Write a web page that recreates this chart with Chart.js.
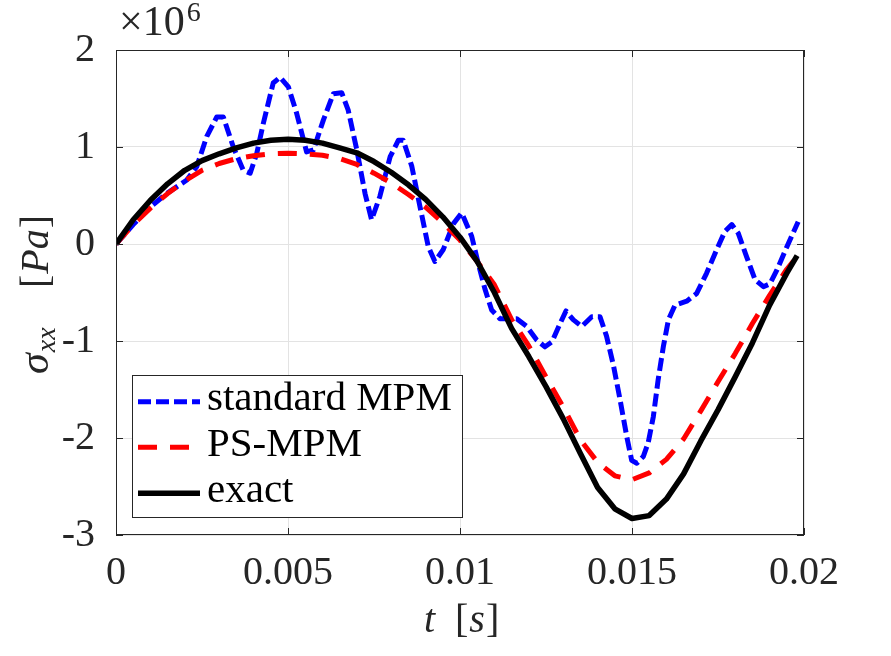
<!DOCTYPE html>
<html>
<head>
<meta charset="utf-8">
<script src="https://cdn.jsdelivr.net/npm/chart.js@4.4.1/dist/chart.umd.min.js"></script>
<style>
  html, body { margin: 0; padding: 0; background: #fff; }
</style>
</head>
<body>
<canvas id="c" width="891" height="656"></canvas>
<script>
// ─── DATA (stress in units of 1e6 Pa) ─────────────────────────────────────
const tExact = [0, 0.0005, 0.001, 0.0015, 0.002, 0.0025, 0.003, 0.0035, 0.004, 0.0045,
  0.005, 0.0055, 0.006, 0.0065, 0.007, 0.0075, 0.008, 0.0085, 0.009, 0.0095,
  0.01, 0.0105, 0.011, 0.0115, 0.012, 0.0125, 0.013, 0.0135, 0.014, 0.0145,
  0.015, 0.0155, 0.016, 0.0165, 0.017, 0.0175, 0.018, 0.0185, 0.019, 0.0195, 0.0198];

const sigmaExact = [0, 0.25, 0.45, 0.62, 0.76, 0.86, 0.93, 0.99, 1.04, 1.07,
  1.08, 1.07, 1.04, 0.99, 0.94, 0.85, 0.74, 0.61, 0.46, 0.28,
  0.07, -0.18, -0.50, -0.87, -1.16, -1.47, -1.80, -2.16, -2.51, -2.73,
  -2.83, -2.80, -2.63, -2.37, -2.03, -1.71, -1.37, -1.02, -0.63, -0.30, -0.12];

const sigmaPS = [0, 0.20, 0.37, 0.52, 0.65, 0.76, 0.83, 0.88, 0.91, 0.93,
  0.935, 0.93, 0.915, 0.88, 0.82, 0.73, 0.63, 0.51, 0.38, 0.22,
  0.04, -0.18, -0.42, -0.78, -1.05, -1.37, -1.68, -2.02, -2.25, -2.39,
  -2.43, -2.36, -2.22, -2.01, -1.72, -1.42, -1.13, -0.82, -0.53, -0.26, -0.13];

const tStd = [0, 0.0005, 0.00099, 0.00147, 0.00206, 0.00235, 0.00264, 0.00293, 0.00312, 0.00341,
  0.00370, 0.00390, 0.00409, 0.00428, 0.00457, 0.00477, 0.00501, 0.00525, 0.00554, 0.00574,
  0.00603, 0.00632, 0.00656, 0.00675, 0.00700, 0.00724, 0.00743, 0.00767, 0.00797, 0.00821,
  0.00835, 0.00860, 0.00884, 0.00908, 0.00927, 0.00951, 0.00981, 0.01005, 0.01034, 0.01053,
  0.01073, 0.01092, 0.01116, 0.01165, 0.01194, 0.01223, 0.01247, 0.01267, 0.01291, 0.01308,
  0.01329, 0.01354, 0.01383, 0.01407, 0.01426, 0.01446, 0.01465, 0.01485, 0.01499, 0.01514,
  0.01533, 0.01547, 0.01562, 0.01576, 0.01591, 0.01606, 0.01625, 0.01659, 0.01688, 0.01717,
  0.01746, 0.01770, 0.01790, 0.01809, 0.01833, 0.01858, 0.01882, 0.01901, 0.01921, 0.01950,
  0.01983];

const sigmaStd = [0, 0.20, 0.38, 0.52, 0.66, 0.80, 1.11, 1.31, 1.31, 1.00,
  0.76, 0.73, 0.93, 1.24, 1.66, 1.72, 1.62, 1.35, 0.95, 0.97,
  1.28, 1.55, 1.56, 1.38, 0.97, 0.52, 0.25, 0.49, 0.90, 1.07,
  1.07, 0.80, 0.38, -0.03, -0.18, -0.06, 0.21, 0.32, 0.08, -0.20,
  -0.47, -0.68, -0.77, -0.77, -0.85, -0.99, -1.06, -1.01, -0.82, -0.69,
  -0.78, -0.85, -0.75, -0.75, -0.95, -1.25, -1.60, -1.99, -2.23, -2.26,
  -2.19, -2.05, -1.78, -1.40, -1.06, -0.78, -0.63, -0.59, -0.51, -0.30,
  -0.06, 0.13, 0.20, 0.11, -0.13, -0.37, -0.44, -0.41, -0.27, -0.03,
  0.23];

const xTicks = [0, 0.005, 0.01, 0.015, 0.02];
const xTickLabels = ["0", "0.005", "0.01", "0.015", "0.02"];
const yTicks = [-3, -2, -1, 0, 1, 2];
const yTickLabels = ["-3", "-2", "-1", "0", "1", "2"];
const seriesNames = ["standard MPM", "PS-MPM", "exact"];

// ─── STYLE ────────────────────────────────────────────────────────────────
const AXIS_COLOR = "#262626";
const SERIF = "'Liberation Serif', 'DejaVu Serif', serif";

const pts = (xs, ys) => xs.map((x, i) => ({ x, y: ys[i] }));

// frame, inner ticks, multiplier, axis titles, legend
const decorations = {
  id: "decorations",
  afterDraw(chart) {
    const { ctx, chartArea: a, scales: { x, y } } = chart;
    ctx.save();

    // box + inner ticks
    ctx.strokeStyle = AXIS_COLOR;
    ctx.lineWidth = 1;
    ctx.strokeRect(Math.round(a.left) + 0.5, Math.round(a.top) + 0.5,
                   Math.round(a.right - a.left) - 1, Math.round(a.bottom - a.top) - 1);
    ctx.beginPath();
    xTicks.forEach(v => {
      const px = Math.round(x.getPixelForValue(v)) + 0.5;
      ctx.moveTo(px, a.bottom); ctx.lineTo(px, a.bottom - 7);
      ctx.moveTo(px, a.top);    ctx.lineTo(px, a.top + 7);
    });
    yTicks.forEach(v => {
      const py = Math.round(y.getPixelForValue(v)) + 0.5;
      ctx.moveTo(a.left, py);  ctx.lineTo(a.left + 7, py);
      ctx.moveTo(a.right, py); ctx.lineTo(a.right - 7, py);
    });
    ctx.stroke();

    ctx.fillStyle = AXIS_COLOR;
    ctx.textBaseline = "alphabetic";
    ctx.textAlign = "left";

    // ×10^6
    ctx.font = "42px " + SERIF;
    ctx.fillText("×10", 119, 35);
    const w10 = ctx.measureText("×10").width;
    ctx.font = "28px " + SERIF;
    ctx.fillText("6", 119 + w10 + 2, 21);

    // x title: t [s]
    ctx.font = "italic 40px " + SERIF;
    ctx.fillText("t", 424, 632);
    let cx = 455;
    ctx.font = "40px " + SERIF;
    ctx.fillText("[", cx, 632); cx += ctx.measureText("[").width + 1;
    ctx.font = "italic 40px " + SERIF;
    ctx.fillText("s", cx, 632); cx += ctx.measureText("s").width + 1;
    ctx.font = "40px " + SERIF;
    ctx.fillText("]", cx, 632);

    // y title: σxx [Pa], rotated
    ctx.save();
    ctx.translate(48, 0);
    ctx.rotate(-Math.PI / 2);
    // rotated frame: u = -screenY
    let u = -374;
    ctx.font = "italic 42px " + SERIF;
    ctx.fillText("σ", u, 0); u += ctx.measureText("σ").width + 1;
    ctx.font = "italic 28px " + SERIF;
    ctx.fillText("xx", u, 7);
    // [Pa] ends at screen y 215
    ctx.font = "40px " + SERIF;
    const wb = ctx.measureText("]").width;
    const wl = ctx.measureText("[").width;
    ctx.font = "italic 40px " + SERIF;
    const wp = ctx.measureText("Pa").width;
    let ue = -215 - wb - wp - wl - 2;
    ctx.font = "40px " + SERIF;
    ctx.fillText("[", ue, 0); ue += wl + 1;
    ctx.font = "italic 40px " + SERIF;
    ctx.fillText("Pa", ue, 0); ue += wp + 1;
    ctx.font = "40px " + SERIF;
    ctx.fillText("]", ue, 0);
    ctx.restore();

    // legend
    const L = { left: 132.5, top: 375.5, right: 462.5, bottom: 517.5 };
    ctx.fillStyle = "#fff";
    ctx.fillRect(L.left, L.top, L.right - L.left, L.bottom - L.top);
    ctx.strokeStyle = AXIS_COLOR;
    ctx.lineWidth = 1;
    ctx.strokeRect(L.left, L.top, L.right - L.left, L.bottom - L.top);
    const rows = [401.7, 447.3, 493.3];
    chart.data.datasets.forEach((ds, i) => {
      ctx.save();
      ctx.strokeStyle = ds.borderColor;
      ctx.lineWidth = ds.borderWidth;
      ctx.setLineDash(ds.borderDash || []);
      ctx.beginPath();
      ctx.moveTo(138, rows[i]); ctx.lineTo(200, rows[i]);
      ctx.stroke();
      ctx.restore();
      ctx.fillStyle = "#000";
      ctx.font = "41px " + SERIF;
      ctx.fillText(ds.label, 207, rows[i] + 8.5);
    });

    ctx.restore();
  }
};

new Chart(document.getElementById("c"), {
  type: "line",
  data: {
    datasets: [
      { label: seriesNames[0], data: pts(tStd, sigmaStd), borderColor: "#0000ff",
        borderWidth: 5, borderDash: [13, 5], order: 2 },
      { label: seriesNames[1], data: pts(tExact, sigmaPS), borderColor: "#ff0000",
        borderWidth: 5, borderDash: [19, 13], order: 1 },
      { label: seriesNames[2], data: pts(tExact, sigmaExact), borderColor: "#000000",
        borderWidth: 5.5, order: 0 }
    ]
  },
  options: {
    responsive: false,
    animation: false,
    events: [],
    layout: { padding: { top: 50, right: 87, left: 0, bottom: 0 } },
    elements: {
      point: { radius: 0 },
      line: { tension: 0, borderCapStyle: "butt", borderJoinStyle: "round", fill: false }
    },
    plugins: {
      legend: { display: false },
      tooltip: { enabled: false }
    },
    scales: {
      x: {
        type: "linear",
        min: 0, max: 0.02,
        afterBuildTicks: s => { s.ticks = xTicks.map(v => ({ value: v })); },
        afterFit: s => { s.height = 121; },
        ticks: {
          autoSkip: false, maxRotation: 0,
          padding: 14,
          color: AXIS_COLOR,
          font: { family: SERIF, size: 40 },
          callback: (v, i) => xTickLabels[i]
        },
        grid: { color: "#e3e3e3", lineWidth: 1, drawTicks: false },
        border: { display: false }
      },
      y: {
        type: "linear",
        min: -3, max: 2,
        afterBuildTicks: s => { s.ticks = yTicks.map(v => ({ value: v })); },
        afterFit: s => { s.width = 116; },
        ticks: {
          autoSkip: false,
          padding: 21,
          color: AXIS_COLOR,
          font: { family: SERIF, size: 40 },
          callback: (v, i) => yTickLabels[i]
        },
        grid: { color: "#e3e3e3", lineWidth: 1, drawTicks: false },
        border: { display: false }
      }
    }
  },
  plugins: [decorations]
});
</script>
</body>
</html>
